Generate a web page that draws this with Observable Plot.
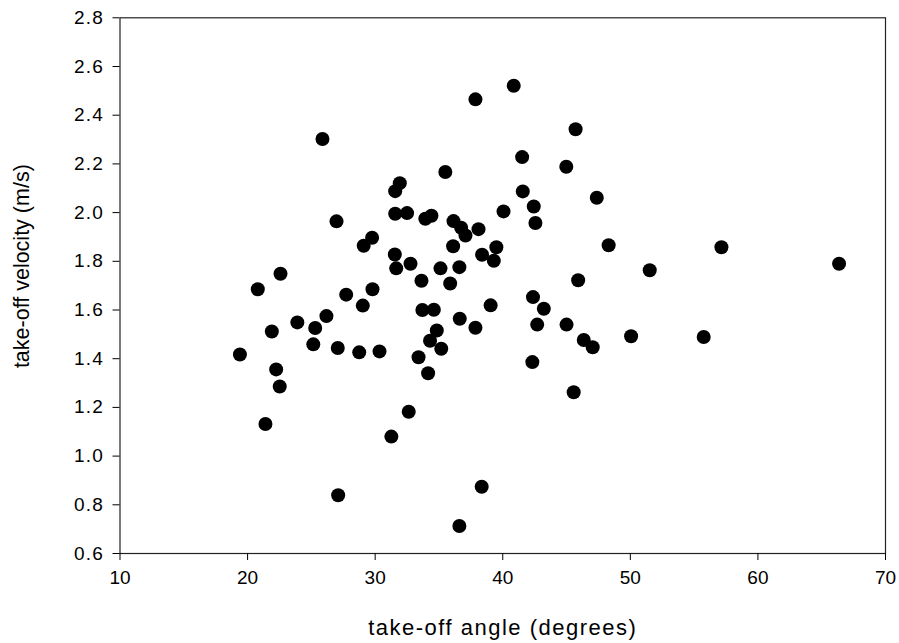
<!DOCTYPE html>
<html>
<head>
<meta charset="utf-8">
<script src="https://cdn.jsdelivr.net/npm/d3@7"></script>
<script src="https://cdn.jsdelivr.net/npm/@observablehq/plot@0.6"></script>
<style>
  html, body { margin: 0; padding: 0; background: #fff; }
  #chart svg { display: block; }
  #chart svg g[aria-label="y-axis tick label"] text { letter-spacing: 1.2px; }
</style>
</head>
<body>
<div id="chart"></div>
<script>
const angle = [
  19.4, 20.8, 21.4, 21.9, 22.24, 22.52, 22.58, 23.9, 25.15, 25.3,
  25.87, 26.18, 26.97, 27.07, 27.1, 27.73, 28.75, 29.03, 29.1, 29.76,
  29.79, 30.34, 31.27, 31.54, 31.57, 31.57, 31.65, 31.93, 32.5, 32.63,
  32.77, 33.4, 33.63, 33.7, 33.93, 34.15, 34.3, 34.41, 34.6, 34.83,
  35.12, 35.18, 35.5, 35.88, 36.11, 36.14, 36.6, 36.63, 36.6, 36.74,
  37.08, 37.86, 37.86, 38.1, 38.35, 38.38, 39.05, 39.3, 39.5, 40.06,
  40.86, 41.52, 41.57, 42.32, 42.37, 42.43, 42.56, 42.7, 43.22, 44.98,
  45.0, 45.56, 45.71, 45.91, 46.35, 47.05, 47.37, 48.3, 50.06, 51.52,
  55.75, 57.14, 66.36
];
const velocity = [
  1.417, 1.685, 1.132, 1.512, 1.356, 1.286, 1.749, 1.549, 1.459, 1.526,
  2.302, 1.575, 1.964, 1.444, 0.839, 1.663, 1.426, 1.618, 1.864, 1.897,
  1.685, 1.430, 1.080, 1.828, 2.088, 1.995, 1.771, 2.121, 1.998, 1.182,
  1.790, 1.406, 1.720, 1.600, 1.975, 1.340, 1.474, 1.987, 1.601, 1.516,
  1.771, 1.441, 2.167, 1.709, 1.862, 1.965, 0.713, 1.564, 1.776, 1.938,
  1.906, 2.465, 1.527, 1.932, 0.874, 1.827, 1.619, 1.802, 1.858, 2.005,
  2.521, 2.228, 2.087, 1.386, 1.653, 2.025, 1.957, 1.540, 1.605, 2.188,
  1.540, 1.262, 2.342, 1.722, 1.477, 1.447, 2.061, 1.866, 1.492, 1.763,
  1.489, 1.858, 1.790
];
const xTicks = [10, 20, 30, 40, 50, 60, 70];
const yTicks = [0.6, 0.8, 1.0, 1.2, 1.4, 1.6, 1.8, 2.0, 2.2, 2.4, 2.6, 2.8];
const xLabel = "take-off angle (degrees)";
const yLabel = "take-off velocity (m/s)";

const data = angle.map((a, i) => ({angle: a, velocity: velocity[i]}));

const chart = Plot.plot({
  width: 899,
  height: 643,
  marginLeft: 119.5,
  marginRight: 14,
  marginTop: 17.3,
  marginBottom: 90,
  style: {fontFamily: "'Liberation Sans', Arial, sans-serif", fontSize: "19px", color: "#000", background: "#fff"},
  x: {domain: [10, 70]},
  y: {domain: [0.6, 2.8]},
  marks: [
    Plot.frame({stroke: "#222", strokeWidth: 1.2}),
    Plot.axisX({ticks: xTicks, tickSize: 7, tickPadding: 10, tickFormat: d3.format("d"),
      label: null, fontSize: 19}),
    Plot.axisY({ticks: yTicks, tickSize: 7, tickPadding: 9, tickFormat: d3.format(".1f"),
      label: null, fontSize: 19}),
    Plot.text([xLabel], {frameAnchor: "bottom", lineAnchor: "bottom", textAnchor: "middle", dy: 81,
      fontSize: 22, fill: "#000"}),
    Plot.text([yLabel], {frameAnchor: "left", lineAnchor: "top", textAnchor: "middle", rotate: -90,
      dx: -106, dy: -19.5, fontSize: 21.5, fill: "#000"}),
    Plot.dot(data, {x: "angle", y: "velocity", r: 7, fill: "#000", stroke: "none"})
  ]
});
d3.select(chart).selectAll("text")
  .filter(function() { return this.textContent === xLabel; })
  .style("letter-spacing", "1.5px");
document.getElementById("chart").append(chart);
</script>
</body>
</html>
